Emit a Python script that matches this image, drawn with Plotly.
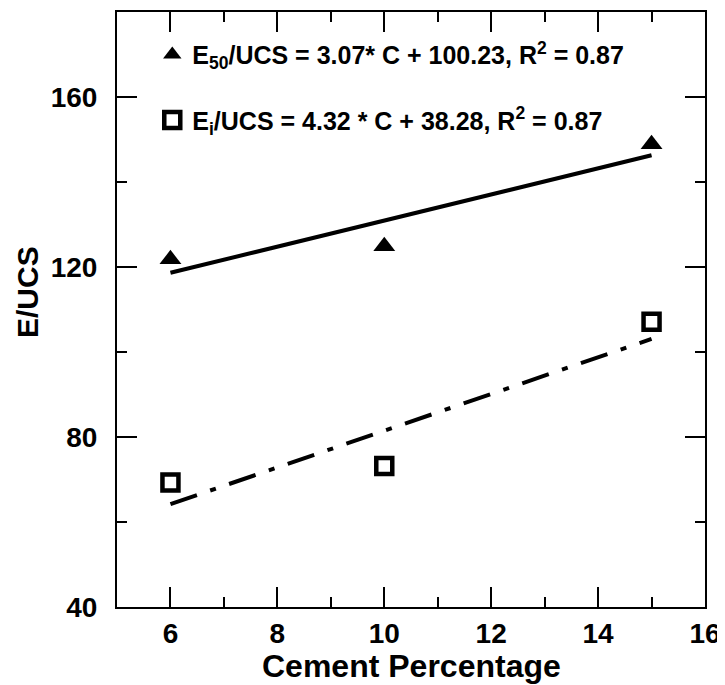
import plotly.graph_objects as go

cement = [6, 10, 15]
e50_ucs = [121.8, 124.9, 148.9]
ei_ucs = [69.3, 73.2, 107.1]
fit_x = [6, 15]
fit_e50 = [118.65, 146.28]
fit_ei = [64.2, 103.08]
x_ticks = [6, 8, 10, 12, 14, 16]
y_ticks = [40, 80, 120, 160]

name_e50 = "E<sub>50</sub>/UCS = 3.07* C + 100.23, R<sup>2</sup> = 0.87"
name_ei = "E<sub>i</sub>/UCS = 4.32 * C + 38.28, R<sup>2</sup> = 0.87"

FONT = "Liberation Sans, Arial, sans-serif"

fig = go.Figure()
fig.add_trace(go.Scatter(x=fit_x, y=fit_e50, mode="lines",
                         line=dict(color="black", width=4), showlegend=False))
fig.add_trace(go.Scatter(x=fit_x, y=fit_ei, mode="lines",
                         line=dict(color="black", width=4, dash="28px,14px,6px,14px"),
                         showlegend=False))
fig.add_trace(go.Scatter(x=cement, y=e50_ucs, mode="markers", name=name_e50,
                         legendgroup="a",
                         marker=dict(symbol="triangle-up", size=19, color="black",
                                     line=dict(width=0))))
fig.add_trace(go.Scatter(x=cement, y=ei_ucs, mode="markers", name=name_ei,
                         legendgroup="b",
                         marker=dict(symbol="square-open", size=16, color="black",
                                     line=dict(width=4.5, color="black"))))

axis_common = dict(
    showline=True, linecolor="black", linewidth=2, mirror="allticks",
    ticks="inside", ticklen=20, tickwidth=1.5, tickcolor="black",
    showgrid=False, zeroline=False, automargin=False,
    tickfont=dict(family=FONT, size=28, color="black", weight="bold"),
)

fig.update_xaxes(range=[5, 16], tickvals=x_ticks, ticktext=[str(v) for v in x_ticks],
                 ticklabelstandoff=0,
                 minor=dict(ticks="inside", ticklen=10, tickwidth=1.5, tickcolor="black", dtick=1, tick0=5),
                 **axis_common)
fig.update_yaxes(range=[40, 180], tickvals=y_ticks, ticktext=[str(v) for v in y_ticks],
                 ticklabelstandoff=12,
                 minor=dict(ticks="inside", ticklen=10, tickwidth=1.5, tickcolor="black", dtick=20, tick0=40),
                 **axis_common)

fig.add_annotation(text="<b>Cement Percentage</b>", xref="paper", yref="paper",
                   x=(412 - 117) / 588, y=-(666 - 607) / 595, xanchor="center", yanchor="middle",
                   showarrow=False, font=dict(family=FONT, size=32, color="black"))
fig.add_annotation(text="<b>E/UCS</b>", xref="paper", yref="paper",
                   x=-(117 - 27) / 588, y=(607 - 292) / 595, xanchor="center", yanchor="middle",
                   textangle=-90, showarrow=False, font=dict(family=FONT, size=30, color="black"))

fig.update_layout(
    width=717, height=677,
    margin=dict(l=109, r=20, t=4, b=78),
    plot_bgcolor="white", paper_bgcolor="white",
    legend=dict(x=0.06, y=0.967, xanchor="left", yanchor="top",
                bgcolor="rgba(0,0,0,0)", traceorder="grouped", tracegroupgap=30,
                font=dict(family=FONT, size=25, color="black", weight="bold")),
)

fig.write_html("out.html")
